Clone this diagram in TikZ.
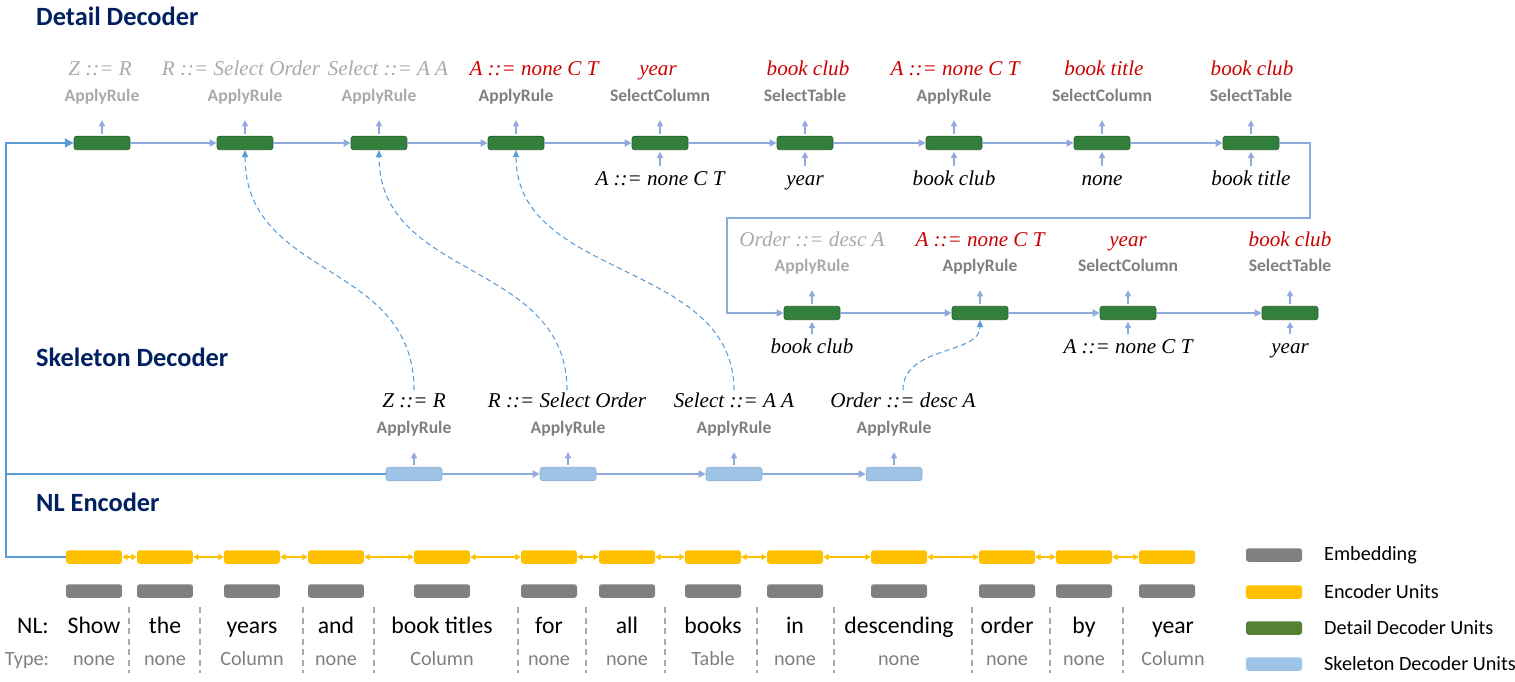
\documentclass[tikz,border=0pt]{standalone}
\usepackage{fontspec}
\setmainfont{Carlito}
\newfontfamily\rulefont{Liberation Serif}
\usetikzlibrary{arrows.meta}

\definecolor{titleblue}{RGB}{0,32,96}
\definecolor{detailgreen}{RGB}{51,128,61}
\definecolor{legendgreen}{RGB}{84,130,53}
\definecolor{encyellow}{RGB}{255,192,0}
\definecolor{embgray}{RGB}{128,128,128}
\definecolor{skelblue}{RGB}{157,195,230}
\definecolor{linkblue}{RGB}{143,170,220}
\definecolor{mainblue}{RGB}{91,155,213}
\definecolor{rulered}{RGB}{204,0,0}
\definecolor{fadegray}{RGB}{170,170,170}
\definecolor{typegray}{RGB}{127,127,127}

\begin{document}
\begin{tikzpicture}[x=0.02cm, y=-0.02cm,
    cell/.style={rounded corners=1.5pt, minimum width=1.12cm, minimum height=0.27cm, inner sep=0pt},
    green cell/.style={cell, fill=detailgreen, draw=detailgreen!75!black, line width=0.4pt},
    blue cell/.style={cell, fill=skelblue, draw=skelblue!90!black, line width=0.3pt},
    enc cell/.style={cell, fill=encyellow},
    emb cell/.style={cell, fill=embgray},
    title/.style={anchor=west, font=\fontsize{15}{18}\selectfont\bfseries, text=titleblue},
    rule/.style={font=\rulefont\itshape\fontsize{12}{14}\selectfont, inner sep=1pt, text height=8.5pt, text depth=2.5pt},
    action/.style={font=\fontsize{10}{12}\selectfont\bfseries, inner sep=1pt, text height=7pt, text depth=2pt},
    word/.style={anchor=base, font=\fontsize{13.5}{16}\selectfont},
    wtype/.style={anchor=base, font=\fontsize{11.5}{14}\selectfont, text=typegray},
    legend/.style={anchor=west, font=\fontsize{11.5}{14}\selectfont},
    link/.style={linkblue, line width=1.3pt, -{Triangle[length=4pt,width=4pt]}},
    up tick/.style={linkblue, line width=0.8pt, -{Triangle[length=3.5pt,width=3.5pt]}, shorten <=1pt, shorten >=7.5pt},
    in tick/.style={linkblue, line width=0.8pt, -{Triangle[length=3.5pt,width=3.5pt]}, shorten <=1pt, shorten >=1pt},
    skip/.style={mainblue, line width=0.6pt, dash pattern=on 3pt off 2pt, -{Triangle[length=4pt,width=3.5pt]}},
    enc link/.style={encyellow, line width=0.9pt, {Triangle[length=3pt,width=3.5pt]}-{Triangle[length=3pt,width=3.5pt]}},
    main line/.style={mainblue, line width=1.6pt}]

    \useasboundingbox (0,0) rectangle (1515,682);

    % Titles
    \node[title] (tdetail) at (30,16) {Detail Decoder};
    \node[title] (tskel) at (30,357) {Skeleton Decoder};
    \node[title] (tenc) at (30,502) {NL Encoder};

    % Detail decoder, first row
    \foreach \i/\x/\lx/\rl/\rc/\act/\ac in {
        1/102/100/{Z ::= R}/fadegray/ApplyRule/fadegray,
        2/245/241/{R ::= Select Order}/fadegray/ApplyRule/fadegray,
        3/379/388/{Select ::= A A}/fadegray/ApplyRule/fadegray,
        4/516/534/{A ::= none C T}/rulered/ApplyRule/typegray,
        5/660/658/year/rulered/SelectColumn/typegray,
        6/805/808/{book club}/rulered/SelectTable/typegray,
        7/954/955/{A ::= none C T}/rulered/ApplyRule/typegray,
        8/1102/1104/{book title}/rulered/SelectColumn/typegray,
        9/1251/1252/{book club}/rulered/SelectTable/typegray} {
        \node[green cell] (d\i) at (\x,143) {};
        \node[action, text=\ac] (da\i) at (\x,97) {\act};
        \node[rule, text=\rc] (dr\i) at (\lx,70) {\rl};
        \draw[up tick] (d\i) -- (da\i);
    }
    \foreach \i [count=\j from 2] in {1,...,8} {
        \draw[link] (d\i) -- (d\j);
    }
    \foreach \i/\x/\txt in {5/660/{A ::= none C T}, 6/805/year, 7/954/{book club}, 8/1102/none, 9/1251/{book title}} {
        \node[rule] (di\i) at (\x,180) {\txt};
        \draw[in tick] (di\i) -- (d\i);
    }

    % Detail decoder, second row
    \foreach \i/\x/\rl/\rc/\act/\ac in {
        1/812/{Order ::= desc A}/fadegray/ApplyRule/fadegray,
        2/980/{A ::= none C T}/rulered/ApplyRule/typegray,
        3/1128/year/rulered/SelectColumn/typegray,
        4/1290/{book club}/rulered/SelectTable/typegray} {
        \node[green cell] (e\i) at (\x,313) {};
        \node[action, text=\ac] (ea\i) at (\x,267) {\act};
        \node[rule, text=\rc] (er\i) at (\x,241) {\rl};
        \draw[up tick] (e\i) -- (ea\i);
    }
    \foreach \i [count=\j from 2] in {1,...,3} {
        \draw[link] (e\i) -- (e\j);
    }
    \foreach \i/\x/\txt in {1/812/{book club}, 3/1128/{A ::= none C T}, 4/1290/year} {
        \node[rule] (ei\i) at (\x,348) {\txt};
        \draw[in tick] (ei\i) -- (e\i);
    }

    % Wrap from first row to second row
    \coordinate (wrapR) at (1310,218);
    \coordinate (wrapL) at (727,218);
    \draw[linkblue, line width=0.8pt, -{Triangle[length=4pt,width=4pt]}] (d9.east) -| (wrapR) -- (wrapL) |- (e1.west);

    % Skeleton decoder
    \foreach \i/\x/\lx/\rl in {1/414/414/{Z ::= R}, 2/568/567/{R ::= Select Order}, 3/734/734/{Select ::= A A}, 4/894/903/{Order ::= desc A}} {
        \node[blue cell] (s\i) at (\x,474) {};
        \node[action, text=typegray] (sa\i) at (\x,429) {ApplyRule};
        \node[rule] (sr\i) at (\lx,402) {\rl};
        \draw[up tick] (s\i) -- (sa\i);
    }
    \foreach \i [count=\j from 2] in {1,...,3} {
        \draw[link] (s\i) -- (s\j);
    }

    % Skeleton to detail
    \draw[skip] (sr1.north) .. controls +(0,-130) and +(0,130) .. (d2.south);
    \draw[skip] (sr2.north) .. controls +(0,-130) and +(0,130) .. (d3.south);
    \draw[skip] (sr3.north) .. controls +(0,-130) and +(0,130) .. (d4.south);
    \draw[skip] (sr4.north) .. controls +(0,-45) and +(0,35) .. (e2.south);

    % NL encoder
    \foreach \i/\x/\wx/\w/\t in {1/94/94/Show/none, 2/165/165/the/none, 3/252/252/years/Column, 4/336/336/and/none,
        5/442/442/book titles/Column, 6/549/549/for/none, 7/627/627/all/none, 8/713/713/books/Table, 9/795/795/in/none,
        10/899/899/descending/none, 11/1007/1007/order/none, 12/1084/1084/by/none, 13/1167/1173/year/Column} {
        \node[enc cell] (w\i) at (\x,557) {};
        \node[emb cell] (m\i) at (\x,591) {};
        \node[word] (nl\i) at (\wx,633) {\w};
        \node[wtype] (ty\i) at (\wx,665) {\t};
    }
    \foreach \i [count=\j from 2] in {1,...,12} {
        \draw[enc link] (w\i) -- (w\j);
    }
    \foreach \x in {129, 200, 303, 374, 518, 586, 665, 757, 834, 972, 1050, 1123} {
        \draw[fadegray, line width=0.8pt, dash pattern=on 3.5pt off 2.5pt] (\x,607) -- (\x,673);
    }
    \node[word] (nllabel) at (33,633) {NL:};
    \node[wtype] (tylabel) at (27,665) {Type:};

    % Encoder to decoders
    \coordinate (bend) at (6,143);
    \coordinate (skjoin) at (6,474);
    \draw[main line, -{Triangle[length=5pt,width=5pt]}] (w1.west) -| (bend) -- (d1.west);
    \draw[main line] (skjoin) -- (s1.west);

    % Legend
    \node[emb cell] (lg1) at (1274,555) {};
    \node[enc cell] (lg2) at (1274,592) {};
    \node[cell, fill=legendgreen] (lg3) at (1274,628) {};
    \node[cell, fill=skelblue] (lg4) at (1274,664) {};
    \node[legend] at (1318,555) {Embedding};
    \node[legend] at (1318,592) {Encoder Units};
    \node[legend] at (1318,628) {Detail Decoder Units};
    \node[legend] at (1318,664) {Skeleton Decoder Units};
\end{tikzpicture}
\end{document}
